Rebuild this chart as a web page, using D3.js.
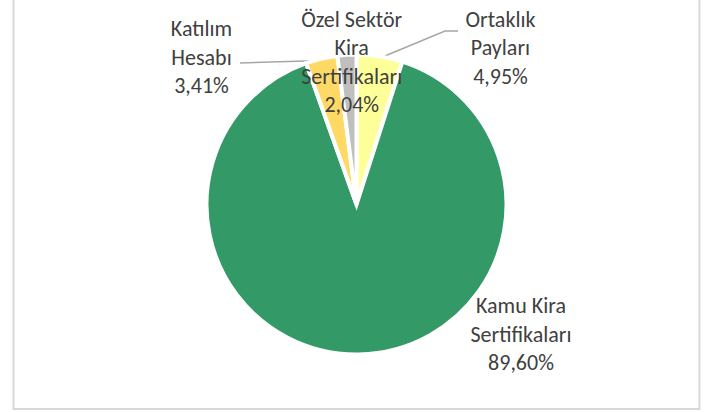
<!DOCTYPE html>
<html>
<head>
<meta charset="utf-8">
<script src="https://cdn.jsdelivr.net/npm/d3@7"></script>
<style>
  html, body { margin: 0; padding: 0; background: #ffffff; }
  svg { display: block; }
</style>
</head>
<body>
<svg id="chart" width="710" height="412"></svg>
<script>
// Portföy dağılımı (%), dilimler saat 12 yönünden saat yönünde sıralı
const categories = ["Ortaklık Payları", "Kamu Kira Sertifikaları", "Katılım Hesabı", "Özel Sektör Kira Sertifikaları"];
const values = [4.95, 89.60, 3.41, 2.04];
const valueLabels = ["4,95%", "89,60%", "3,41%", "2,04%"];
const colors = ["#FFFF99", "#339966", "#FFD966", "#BFBFBF"];
// Etiket satırları (kategori adı satırlara bölünmüş)
const labelLines = [
  ["Ortaklık", "Payları"],
  ["Kamu Kira", "Sertifikaları"],
  ["Katılım", "Hesabı"],
  ["Özel Sektör", "Kira", "Sertifikaları"]
];

const width = 710, height = 412;
const cx = 356.5, cy = 204.5, radius = 150;
const lineH = 28.5;

const svg = d3.select("#chart");

// Grafik alanı çerçevesi
svg.append("rect")
  .attr("x", 13.5).attr("y", -10)
  .attr("width", 686).attr("height", 419)
  .attr("fill", "#ffffff")
  .attr("stroke", "#D9D9D9")
  .attr("stroke-width", 2);

const g = svg.append("g").attr("transform", `translate(${cx},${cy})`);

const pie = d3.pie().sort(null).value(d => d)(values);
const arc = d3.arc().innerRadius(0).outerRadius(radius);

// Etiket konumları: merkeze göre (x ortası, üst satır taban çizgisi)
const labelPos = [
  { x: 144, y: -178 },
  { x: 164.5, y: 108.8 },
  { x: -155, y: -168.5 },
  { x: -4.8, y: -177.8 }
];

// Kılavuz çizgileri (dilimin dış kenar ortasından etikete)
const outerMid = d => {
  const a = (d.startAngle + d.endAngle) / 2;
  return [Math.sin(a) * (radius - 2), -Math.cos(a) * (radius - 2)];
};
const leaders = [
  { i: 0, pts: p => [p, [88.5, -173.5], [101.5, -173.5]] },
  { i: 2, pts: p => [p, [-116.5, -141.5]] }
];
leaders.forEach(l => {
  const p = outerMid(pie[l.i]);
  g.append("path")
    .attr("d", d3.line()(l.pts(p)))
    .attr("fill", "none")
    .attr("stroke", "#A6A6A6")
    .attr("stroke-width", 1.5);
});

// Dilimler
g.selectAll("path.slice")
  .data(pie)
  .join("path")
  .attr("class", "slice")
  .attr("d", arc)
  .attr("fill", (d, i) => colors[i])
  .attr("stroke", "#ffffff")
  .attr("stroke-width", 4)
  .attr("stroke-linejoin", "miter");

// Veri etiketleri
pie.forEach((d, i) => {
  const lines = labelLines[i].concat([valueLabels[i]]);
  const t = g.append("text")
    .attr("text-anchor", "middle")
    .attr("font-family", "Carlito, Lato, 'Open Sans', sans-serif")
    .attr("font-size", 22)
    .attr("fill", "#404040");
  lines.forEach((s, k) => {
    t.append("tspan")
      .attr("x", labelPos[i].x)
      .attr("y", labelPos[i].y + k * lineH)
      .text(s);
  });
});
</script>
</body>
</html>
